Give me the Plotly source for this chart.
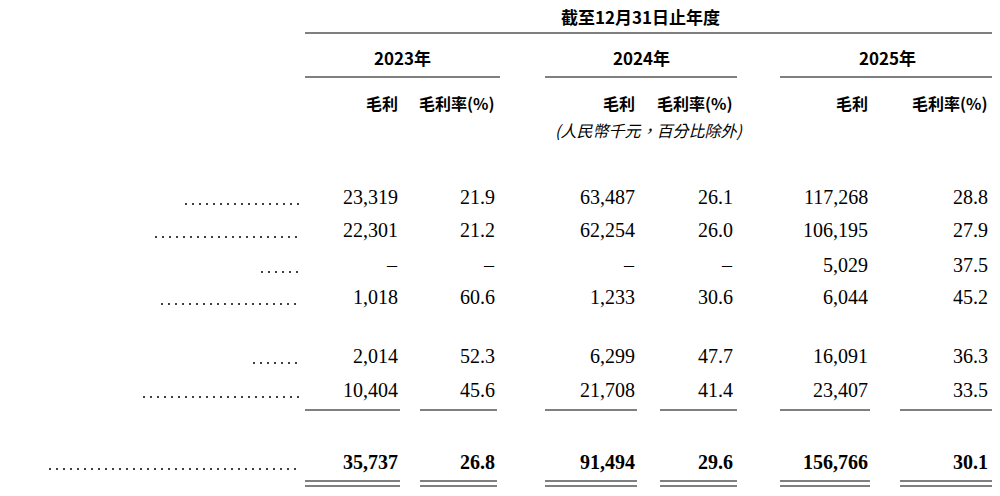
import plotly.graph_objects as go

labels = ["智能半導體傳輸系統", "－晶圓傳輸設備", "－自動物料搬運系統(AMHS)", "－零部件及其他",
          "半導體封裝自動化設備及組件", "技術服務及其他", "總計"]
gp2023 = ["23,319", "22,301", "–", "1,018", "2,014", "10,404", "35,737"]
gm2023 = ["21.9", "21.2", "–", "60.6", "52.3", "45.6", "26.8"]
gp2024 = ["63,487", "62,254", "–", "1,233", "6,299", "21,708", "91,494"]
gm2024 = ["26.1", "26.0", "–", "30.6", "47.7", "41.4", "29.6"]
gp2025 = ["117,268", "106,195", "5,029", "6,044", "16,091", "23,407", "156,766"]
gm2025 = ["28.8", "27.9", "37.5", "45.2", "36.3", "33.5", "30.1"]
years = ["2023年", "2024年", "2025年"]

row_y = [197, 230, 265, 297, 356, 390, 462]
col_x = [400, 497, 637, 735, 870, 990]
year_x = [(305, 500), (545, 737), (780, 995)]
SERIF = "Liberation Serif, Noto Serif CJK TC, Noto Sans CJK TC"
CJK = "Noto Sans CJK TC"

fig = go.Figure()
ann = []
def A(x, y, t, anchor="right", size=16, bold=False, family=SERIF, italic=False):
    if bold: t = "<b>" + t + "</b>"
    if italic: t = "<i>" + t + "</i>"
    ann.append(dict(x=x, y=y, xref="x", yref="y", text=t, showarrow=False, xanchor=anchor,
                    yanchor="middle", font=dict(family=family, size=size, color="black")))

A(640, 16, "截至12月31日止年度", "center", 17, True, CJK)
for (a, b), yr in zip(year_x, years):
    A((a + b) / 2, 57, yr, "center", 17, True, CJK)
for i in range(3):
    A(col_x[2 * i], 103, "毛利", "right", 16, True, CJK)
    A(col_x[2 * i + 1], 103, "毛利率(%)", "right", 16, True, CJK)
A(648, 130, "(人民幣千元，百分比除外)", "center", 16, False, CJK, italic=True)

cols = [gp2023, gm2023, gp2024, gm2024, gp2025, gm2025]
for r, (lab, y) in enumerate(zip(labels, row_y)):
    bold = r == len(labels) - 1
    A(5, y, lab, "left", 19, bold, CJK)
    for c, vals in enumerate(cols):
        A(col_x[c], y, vals[r], "right", 20, bold)

# dot leaders
dot_start = [186, 156, 262, 162, 254, 144, 50]
for r, y in enumerate(row_y):
    xs = list(range(dot_start[r], 300, 7))
    fig.add_trace(go.Scatter(x=xs, y=[y + 7] * len(xs),
                             mode="markers", marker=dict(size=2, color="black"), hoverinfo="skip"))

shapes = [dict(type="line", x0=305, x1=1000, y0=33, y1=33)]
for a, b in year_x:
    shapes.append(dict(type="line", x0=a, x1=b, y0=77, y1=77))
segs = [(305, 400), (420, 497), (545, 637), (660, 737), (780, 870), (900, 995)]
for a, b in segs:
    shapes.append(dict(type="line", x0=a, x1=b, y0=410, y1=410))
    shapes.append(dict(type="line", x0=a, x1=b, y0=481, y1=481))
    shapes.append(dict(type="line", x0=a, x1=b, y0=486, y1=486))
for s in shapes:
    s.update(xref="x", yref="y", line=dict(color="black", width=1))

fig.update_layout(width=1000, height=496, margin=dict(l=0, r=0, t=0, b=0),
                  plot_bgcolor="white", paper_bgcolor="white", showlegend=False,
                  xaxis=dict(range=[8, 1008], visible=False, fixedrange=True),
                  yaxis=dict(range=[504, 8], visible=False, fixedrange=True),
                  annotations=ann, shapes=shapes)
fig.write_html("out.html")
